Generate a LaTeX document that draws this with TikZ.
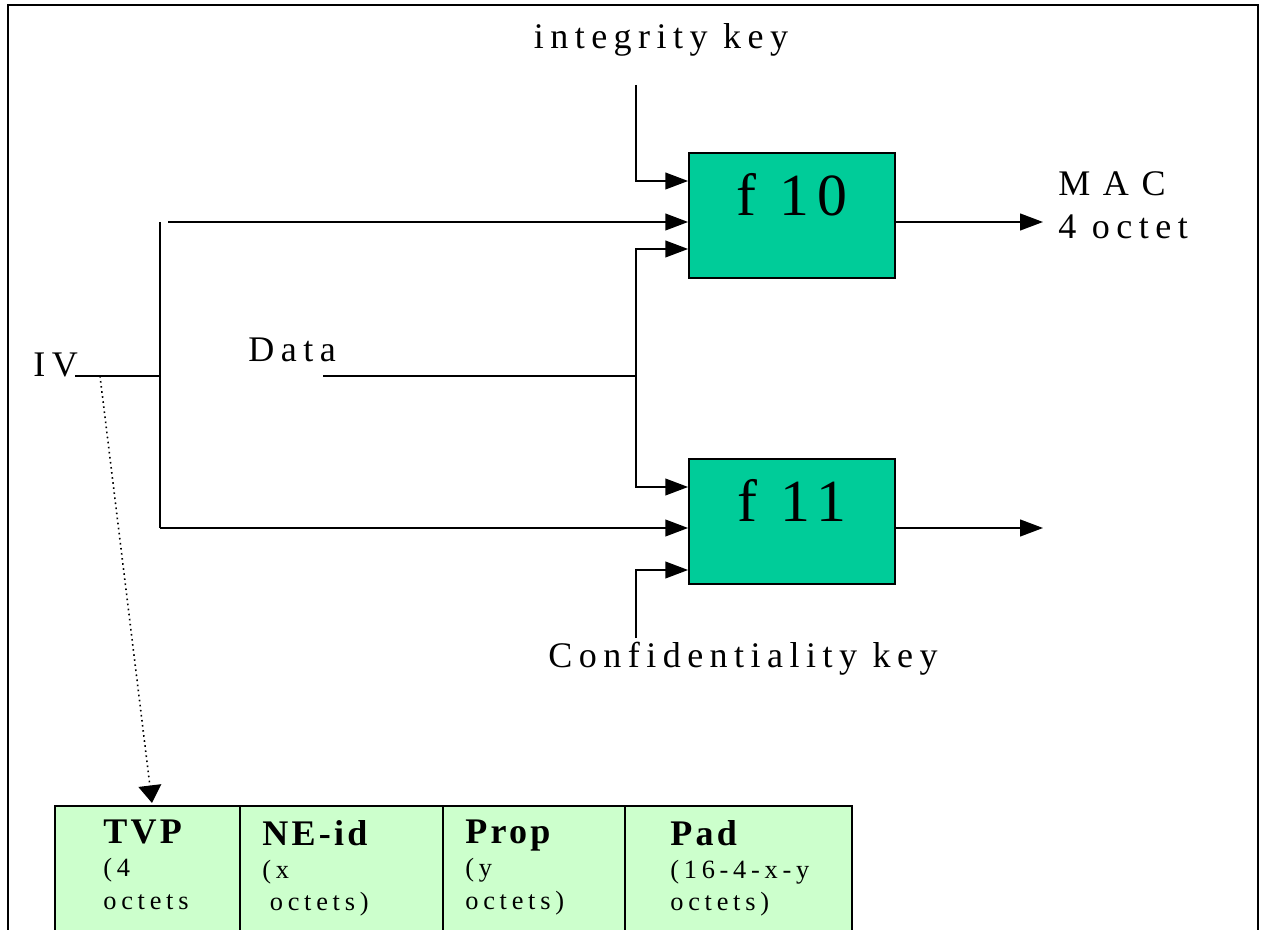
\documentclass[tikz,border=0pt]{standalone}
\usepackage{fontspec}
\setmainfont[LetterSpace=18]{Liberation Serif}
\usepackage{tikz}
\usetikzlibrary{arrows.meta,positioning,calc}

\definecolor{fgreen}{HTML}{00CC99}
\definecolor{ivgreen}{HTML}{CCFFCC}

\newcommand{\fieldhead}[1]{\fontsize{20.5}{18.1}\selectfont\bfseries\addfontfeature{LetterSpace=9}#1}

\tikzset{
  fn/.style={draw,line width=1pt,fill=fgreen,minimum width=4.12cm,minimum height=2.5cm,
    text height=0.8cm,text depth=0.8cm,font=\fontsize{34}{40}\selectfont\addfontfeature{LetterSpace=14}},
  lbl/.style={inner sep=0pt,font=\fontsize{20.5}{24}\selectfont},
  wire/.style={line width=1.1pt},
  feed/.style={wire,-{Triangle[length=13pt,width=9.5pt]}},
  tap/.style={line width=0.9pt,dotted,-{Triangle[length=10pt,width=13pt]}},
  field/.style={draw,line width=1.4pt,fill=ivgreen,outer sep=0pt,anchor=north west,minimum height=3.2cm},
  fieldtext/.style={inner sep=0pt,anchor=north west,align=left,font=\fontsize{15}{18.6}\selectfont}
}

\begin{document}
\begin{tikzpicture}
  \useasboundingbox (0,0) rectangle (25.26,-18.6);
  \clip (0,0) rectangle (25.26,-18.6);
  \draw[line width=1.1pt] (0.16,-0.10) rectangle (25.16,-19.2);

  \node[fn] (f10) at (15.84,-4.31) {f 10};
  \node[fn] (f11) at (15.84,-10.43) {f 11};

  \node[lbl,anchor=base] (ikey) at (13.22,-0.98) {integrity\ key};
  \node[lbl,anchor=base] (ckey) at (14.86,-13.34) {Confidentiality key};
  \node[lbl,anchor=base west] (iv) at (0.66,-7.54) {IV};
  \node[lbl,anchor=base west] (data) at (4.96,-7.24) {Data};
  \node[lbl,anchor=base west,font=\fontsize{20.5}{24}\selectfont\addfontfeature{LetterSpace=35}] (mac) at (21.16,-3.92) {MAC};
  \node[lbl,anchor=base west] (octet) at (21.16,-4.78) {4 octet};

  \coordinate (ikeyfoot) at (12.72,-1.70);
  \coordinate (ckeytop) at (12.72,-12.76);
  \coordinate (ivend) at (1.5,-7.52);
  \coordinate (ivtap) at (2.0,-7.52);
  \coordinate (ivjoin) at (3.2,-7.52);
  \coordinate (bustop) at (3.2,-4.44);
  \coordinate (busbot) at (3.2,-10.56);
  \coordinate (datastart) at (6.46,-7.52);
  \coordinate (datajoin) at (12.72,-7.52);
  \coordinate (macend) at (20.86,-4.44);
  \coordinate (cipherend) at (20.86,-10.56);

  \draw[wire] (ivend) -- (ivjoin);
  \draw[wire] (bustop) -- (busbot);
  \draw[feed] ([xshift=0.16cm]bustop) -- ([yshift=-0.13cm]f10.west);
  \draw[feed] (busbot) -- ([yshift=-0.13cm]f11.west);
  \draw[feed] (ikeyfoot) |- ([yshift=0.69cm]f10.west);
  \draw[wire] (datastart) -- (datajoin);
  \draw[feed] (datajoin) |- ([yshift=-0.67cm]f10.west);
  \draw[feed] (datajoin) |- ([yshift=0.69cm]f11.west);
  \draw[feed] (ckeytop) |- ([yshift=-0.97cm]f11.west);
  \draw[feed] ([yshift=-0.13cm]f10.east) -- (macend);
  \draw[feed] ([yshift=-0.13cm]f11.east) -- (cipherend);

  \node[field,minimum width=3.7cm] (tvp) at (1.1,-16.12) {};
  \node[field,minimum width=4.06cm] (neid) at (tvp.north east) {};
  \node[field,minimum width=3.64cm] (prop) at (neid.north east) {};
  \node[field,minimum width=4.54cm] (pad) at (prop.north east) {};

  \node[fieldtext] (tvptext) at (2.06,-16.40) {\fieldhead{TVP}\\(4\\octets};
  \node[fieldtext] (neidtext) at (5.24,-16.40) {\fieldhead{NE-id}\\(x\\\hspace{0.15cm}octets)};
  \node[fieldtext] (proptext) at (9.30,-16.40) {\fieldhead{Prop}\\(y\\octets)};
  \node[fieldtext] (padtext) at (13.40,-16.40) {\fieldhead{Pad}\\(16-4-x-y\\octets)};

  \draw[tap] (ivtap) -- ([xshift=1.94cm,yshift=0.06cm]tvp.north west);
\end{tikzpicture}
\end{document}
